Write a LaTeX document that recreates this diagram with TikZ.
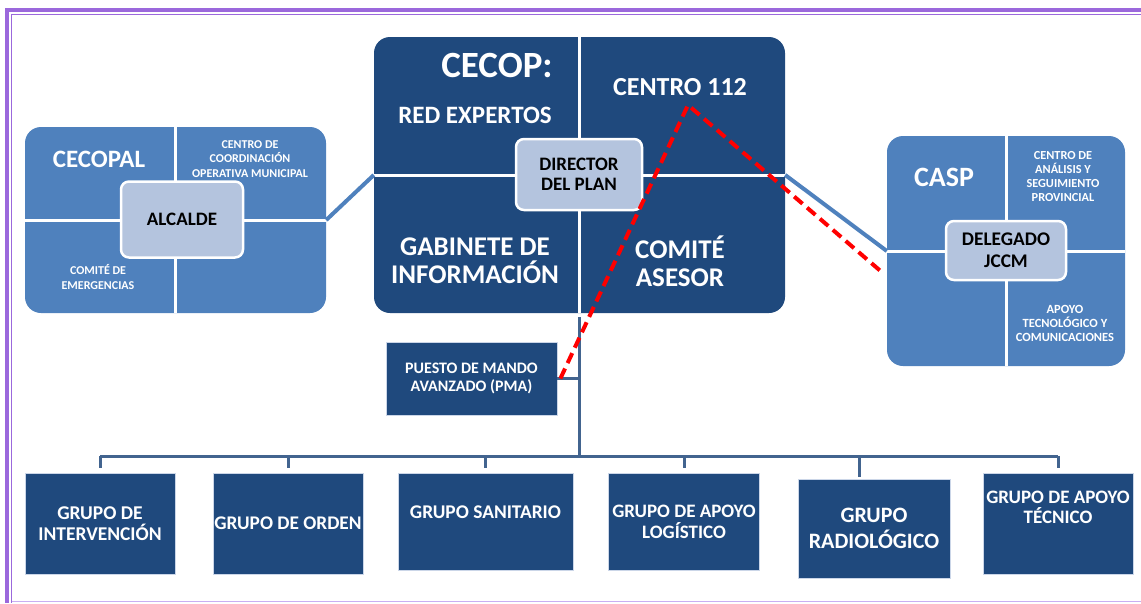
\documentclass[tikz,border=0pt]{standalone}
\usepackage{fontspec}
\setmainfont{Carlito}
\definecolor{darkb}{HTML}{1F497D}
\definecolor{midb}{HTML}{4F81BD}
\definecolor{lightb}{HTML}{B4C4DE}
\definecolor{treeline}{HTML}{42648F}
\definecolor{framec}{HTML}{9B68DC}
\definecolor{framelt}{HTML}{C9AEF2}
\newcommand{\fsz}[2]{\fontsize{#1pt}{#2pt}\selectfont}
\begin{document}
\begin{tikzpicture}[x=1pt,y=-1pt,
 bigbox/.style={rounded corners=16pt, inner sep=0pt, draw=none},
 divider/.style={white, line width=3pt},
 centerbox/.style={draw=white, line width=2.5pt, fill=lightb, rounded corners=8pt, inner sep=0pt, text=black, align=center},
 wtext/.style={text=white, align=center, inner sep=0pt},
 grp/.style={fill=darkb, draw=lightb!70!white, line width=0.8pt, inner sep=0pt, text=white, align=center},
 sidecon/.style={midb, line width=4pt},
 treecon/.style={treeline, line width=3pt},
 reddash/.style={red, line width=4pt, dash pattern=on 11pt off 6pt}
]
\useasboundingbox (0,0) rectangle (1141,603);

% frame
\fill[framec] (5,8) rectangle (1141,12);
\fill[framec] (5,8) rectangle (9,603);
\draw[framec, line width=1.3pt] (11.5,14.3) -- (1141,14.3);
\draw[framec, line width=1.3pt] (11.5,14.3) -- (11.5,603);
\draw[framelt, line width=1.5pt] (11.5,601.5) -- (1141,601.5);

% CECOPAL
\node[bigbox, fill=midb, minimum width=301pt, minimum height=186pt] (cecopal) at (175.5,220) {};
\draw[divider] (cecopal.north) -- (cecopal.south);
\draw[divider] (cecopal.west) -- (cecopal.east);
\node[wtext, font=\bfseries\fsz{25}{27}] (cecopalt) at (99,159) {CECOPAL};
\node[wtext, font=\bfseries\fsz{12}{14.5}] (ccom) at (250,159) {CENTRO DE\\COORDINACIÓN\\OPERATIVA MUNICIPAL};
\node[wtext, font=\bfseries\fsz{12}{15}] (cemerg) at (98,277) {COMITÉ DE\\EMERGENCIAS};
\node[centerbox, minimum width=122pt, minimum height=76pt, font=\bfseries\fsz{19}{21}] (alcalde) at (182,219.5) {ALCALDE};

% CECOP
\node[bigbox, fill=darkb, minimum width=411pt, minimum height=276pt] (cecop) at (579.5,175) {};
\draw[divider] (cecop.north) -- (cecop.south);
\draw[divider] (cecop.west) -- (cecop.east);
\node[wtext, font=\bfseries\fsz{37}{40}] (cecopt) at (497,65) {CECOP:};
\node[wtext, font=\bfseries\fsz{25}{27}] (redexp) at (475,115) {RED EXPERTOS};
\node[wtext, font=\bfseries\fsz{26}{28}] (c112) at (680,87) {CENTRO 112};
\node[wtext, font=\bfseries\fsz{27}{28}] (gabinete) at (475,261) {GABINETE DE\\INFORMACIÓN};
\node[wtext, font=\bfseries\fsz{27}{28}] (comite) at (680,261) {COMITÉ\\ASESOR};
\node[centerbox, minimum width=126pt, minimum height=71pt, font=\bfseries\fsz{19}{20}] (director) at (579,174.5) {DIRECTOR\\DEL PLAN};

% CASP
\node[bigbox, fill=midb, minimum width=238pt, minimum height=230pt] (casp) at (1006,251) {};
\draw[divider] (casp.north) -- (casp.south);
\draw[divider] (casp.west) -- (casp.east);
\node[wtext, font=\bfseries\fsz{28}{30}] (caspt) at (944,177) {CASP};
\node[wtext, font=\bfseries\fsz{12.3}{14}] (cana) at (1063,177) {CENTRO DE\\ANÁLISIS Y\\SEGUIMIENTO\\PROVINCIAL};
\node[wtext, font=\bfseries\fsz{12.5}{14}] (capoyo) at (1065,323) {APOYO\\TECNOLÓGICO Y\\COMUNICACIONES};
\node[centerbox, minimum width=120pt, minimum height=59pt, font=\bfseries\fsz{19.3}{22}] (delegado) at (1006,250.5) {DELEGADO\\JCCM};

% side connectors
\draw[sidecon] (cecopal.east) -- (cecop.west);
\draw[sidecon] (cecop.east) -- (casp.west);

% PMA
\node[grp, minimum width=171pt, minimum height=73pt, font=\bfseries\fsz{16}{18}] (pma) at (471.5,378.5) {PUESTO DE MANDO\\AVANZADO (PMA)};

% groups
\node[grp, minimum width=150pt, minimum height=101pt, font=\bfseries\fsz{19.5}{21}] (g1) at (100,523.5) {GRUPO DE\\INTERVENCIÓN};
\node[grp, minimum width=150pt, minimum height=101pt, font=\bfseries\fsz{19.3}{21}] (g2) at (288,523.5) {GRUPO DE ORDEN};
\node[grp, minimum width=175pt, minimum height=97pt] (g3) at (485.5,521.5) {};
\node[wtext, font=\bfseries\fsz{19.4}{21}] (g3t) at (485.5,512) {GRUPO SANITARIO};
\node[grp, minimum width=151.5pt, minimum height=97pt, font=\bfseries\fsz{19}{21}] (g4) at (684,521.5) {GRUPO DE APOYO\\LOGÍSTICO};
\node[grp, minimum width=152pt, minimum height=99pt, font=\bfseries\fsz{22}{26}] (g5) at (874,528.5) {GRUPO\\RADIOLÓGICO};
\node[grp, minimum width=150pt, minimum height=101pt] (g6) at (1058,523.5) {};
\node[wtext, font=\bfseries\fsz{19}{20}] (g6t) at (1058,507) {GRUPO DE APOYO\\TÉCNICO};

% tree connectors
\coordinate (bus) at (0,456);
\draw[treecon] ([yshift=-4pt]cecop.south) -- (cecop.south |- bus);
\draw[treecon] (pma.east) -- (pma.east -| cecop.south);
\draw[treecon] (g1.north |- bus) -- (g6.north |- bus);
\draw[treecon] (g1.north |- bus) -- ([yshift=5pt]g1.north);
\draw[treecon] (g2.north |- bus) -- ([yshift=5pt]g2.north);
\draw[treecon] (g3.north |- bus) -- ([yshift=5pt]g3.north);
\draw[treecon] (g4.north |- bus) -- ([yshift=5pt]g4.north);
\draw[treecon] ([xshift=-15pt]g5.north |- bus) -- ([xshift=-15pt,yshift=2pt]g5.north);
\draw[treecon] (g6.north |- bus) -- ([yshift=5pt]g6.north);

% red dashed link
\coordinate (apex) at (688,105);
\coordinate (redend) at (884,274);
\draw[reddash] ([xshift=3pt]pma.east) -- (apex) -- (redend);
\end{tikzpicture}
\end{document}
